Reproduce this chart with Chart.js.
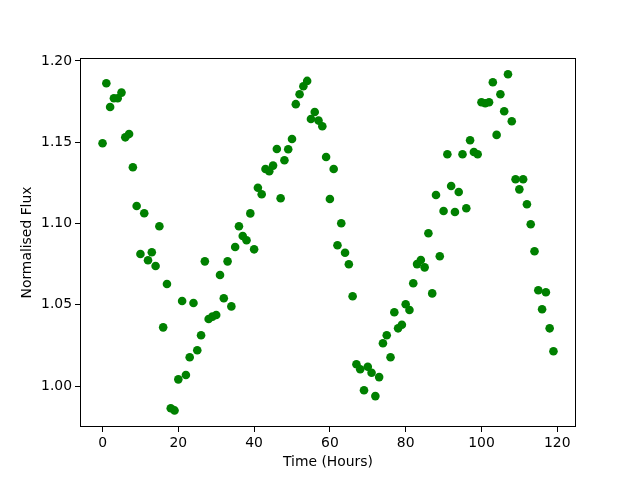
<!DOCTYPE html>
<html>
<head>
<meta charset="utf-8">
<script src="https://cdn.jsdelivr.net/npm/chart.js@4"></script>
<style>
  body { margin: 0; background: #fff; }
</style>
</head>
<body>
<canvas id="fluxChart" width="640" height="480"></canvas>
<script>
// hours 0..119, one reading per hour
const hours = [];
for (let h = 0; h < 120; h++) hours.push(h);

const flux = [
  1.1494, 1.1863, 1.1717, 1.1770, 1.1770, 1.1805, 1.1530, 1.1550, 1.1346, 1.1108,
  1.0812, 1.1063, 1.0774, 1.0823, 1.0738, 1.0983, 1.0361, 1.0628, 0.9863, 0.9850,
  1.0041, 1.0523, 1.0068, 1.0177, 1.0511, 1.0220, 1.0312, 1.0767, 1.0412, 1.0427,
  1.0437, 1.0683, 1.0540, 1.0767, 1.0490, 1.0855, 1.0983, 1.0923, 1.0897, 1.1062,
  1.0841, 1.1220, 1.1180, 1.1335, 1.1321, 1.1356, 1.1458, 1.1155, 1.1389, 1.1457,
  1.1520, 1.1734, 1.1795, 1.1844, 1.1877, 1.1643, 1.1686, 1.1633, 1.1598, 1.1409,
  1.1151, 1.1335, 1.0866, 1.1001, 1.0820, 1.0749, 1.0552, 1.0134, 1.0103, 0.9974,
  1.0119, 1.0082, 0.9938, 1.0055, 1.0263, 1.0312, 1.0177, 1.0454, 1.0355, 1.0377,
  1.0503, 1.0468, 1.0632, 1.0750, 1.0775, 1.0730, 1.0940, 1.0570, 1.1175, 1.0798,
  1.1077, 1.1426, 1.1231, 1.1071, 1.1194, 1.1426, 1.1094, 1.1512, 1.1440, 1.1426,
  1.1746, 1.1740, 1.1746, 1.1869, 1.1545, 1.1795, 1.1690, 1.1918, 1.1629, 1.1272,
  1.1210, 1.1272, 1.1118, 1.0995, 1.0829, 1.0589, 1.0472, 1.0577, 1.0355, 1.0214
];

const xTicks = [0, 20, 40, 60, 80, 100, 120];
const yTicks = [1.00, 1.05, 1.10, 1.15, 1.20];

const points = hours.map((h, i) => ({ x: h, y: flux[i] }));

const font = { family: 'DejaVu Sans', size: 13.9 };

// box around the plot, like matplotlib spines
const frame = {
  id: 'frame',
  afterDraw(chart) {
    const a = chart.chartArea;
    const c = chart.ctx;
    c.save();
    c.strokeStyle = '#000';
    c.lineWidth = 1;
    c.strokeRect(Math.round(a.left) + 0.5, Math.round(a.top) + 0.5,
      Math.round(a.right - a.left) - 1, Math.round(a.bottom - a.top) - 1);
    c.restore();
  }
};

new Chart(document.getElementById('fluxChart'), {
  type: 'scatter',
  data: {
    datasets: [{
      data: points,
      backgroundColor: '#008000',
      borderWidth: 0,
      pointRadius: 4.3,
      pointHoverRadius: 4.3
    }]
  },
  options: {
    responsive: false,
    animation: false,
    devicePixelRatio: 1,
    layout: { padding: { top: 58, right: 64, left: 0, bottom: 0 } },
    plugins: { legend: { display: false }, tooltip: { enabled: false } },
    scales: {
      x: {
        type: 'linear',
        min: -5.95,
        max: 124.95,
        afterBuildTicks: s => { s.ticks = xTicks.map(v => ({ value: v })); },
        afterFit: s => { s.height = 53; },
        grid: { drawOnChartArea: false, color: '#000', tickLength: 5 },
        border: { display: false },
        ticks: { color: '#000', font: font, padding: 3, maxRotation: 0,
          callback: v => String(v) },
        title: { display: true, text: 'Time (Hours)', color: '#000', font: font,
          padding: { top: 0, bottom: 9 } }
      },
      y: {
        type: 'linear',
        min: 0.9748,
        max: 1.2018,
        afterBuildTicks: s => { s.ticks = yTicks.map(v => ({ value: v })); },
        afterFit: s => { s.width = 80; },
        grid: { drawOnChartArea: false, color: '#000', tickLength: 5 },
        border: { display: false },
        ticks: { color: '#000', font: font, padding: 3,
          callback: v => v.toFixed(2) },
        title: { display: true, text: 'Normalised Flux', color: '#000', font: font,
          padding: { top: 19, bottom: 0 } }
      }
    }
  },
  plugins: [frame]
});
</script>
</body>
</html>
